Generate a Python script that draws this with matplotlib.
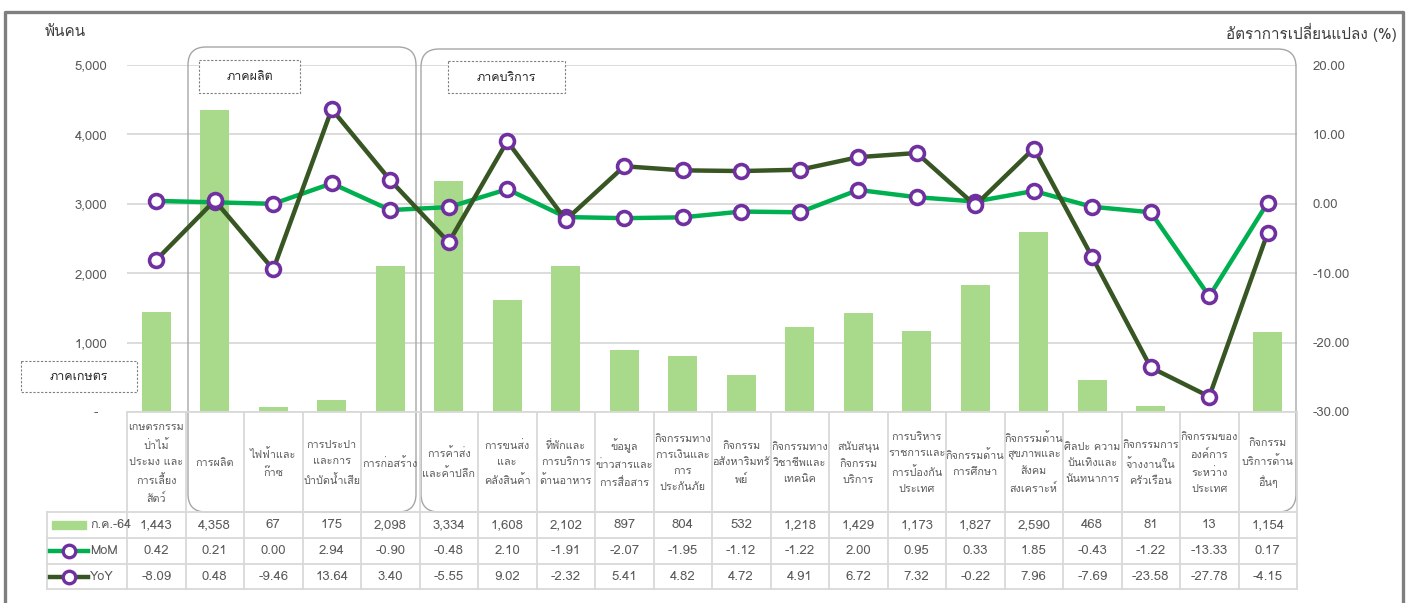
import matplotlib
matplotlib.use("Agg")
import matplotlib.pyplot as plt
import matplotlib.patches as patches
from matplotlib import font_manager
from matplotlib.ft2font import FT2Font
from matplotlib.lines import Line2D

# pick any installed font that has Thai glyphs
thai_family = None
for f in font_manager.fontManager.ttflist:
    try:
        if FT2Font(f.fname).get_char_index(0x0E01):
            thai_family = f.name
            break
    except Exception:
        pass
fams = ([thai_family] if thai_family else []) + ["DejaVu Sans"]
plt.rcParams["font.family"] = fams

categories = [
    "เกษตรกรรม\nป่าไม้\nประมง และ\nการเลี้ยง\nสัตว์",
    "การผลิต",
    "ไฟฟ้าและ\nก๊าซ",
    "การประปา\nและการ\nบำบัดน้ำเสีย",
    "การก่อสร้าง",
    "การค้าส่ง\nและค้าปลีก",
    "การขนส่ง\nและ\nคลังสินค้า",
    "ที่พักและ\nการบริการ\nด้านอาหาร",
    "ข้อมูล\nข่าวสารและ\nการสื่อสาร",
    "กิจกรรมทาง\nการเงินและ\nการ\nประกันภัย",
    "กิจกรรม\nอสังหาริมทรั\nพย์",
    "กิจกรรมทาง\nวิชาชีพและ\nเทคนิค",
    "สนับสนุน\nกิจกรรม\nบริการ",
    "การบริหาร\nราชการและ\nการป้องกัน\nประเทศ",
    "กิจกรรมด้าน\nการศึกษา",
    "กิจกรรมด้าน\nสุขภาพและ\nสังคม\nสงเคราะห์",
    "ศิลปะ ความ\nบันเทิงและ\nนันทนาการ",
    "กิจกรรมการ\nจ้างงานใน\nครัวเรือน",
    "กิจกรรมของ\nองค์การ\nระหว่าง\nประเทศ",
    "กิจกรรม\nบริการด้าน\nอื่นๆ",
]
employed = [1443, 4358, 67, 175, 2098, 3334, 1608, 2102, 897, 804,
            532, 1218, 1429, 1173, 1827, 2590, 468, 81, 13, 1154]
mom = [0.42, 0.21, 0.00, 2.94, -0.90, -0.48, 2.10, -1.91, -2.07, -1.95,
       -1.12, -1.22, 2.00, 0.95, 0.33, 1.85, -0.43, -1.22, -13.33, 0.17]
yoy = [-8.09, 0.48, -9.46, 13.64, 3.40, -5.55, 9.02, -2.32, 5.41, 4.82,
       4.72, 4.91, 6.72, 7.32, -0.22, 7.96, -7.69, -23.58, -27.78, -4.15]
left_ticks = [0, 1000, 2000, 3000, 4000, 5000]
left_labels = ["-  ", "1,000", "2,000", "3,000", "4,000", "5,000"]
right_ticks = [-30, -20, -10, 0, 10, 20]
bar_label = "ก.ค.-64"

BAR_C = "#A9D98B"
MOM_C = "#00B050"
YOY_C = "#375623"
MK_C = "#7030A0"
TXT_C = "#595959"
GRID_C = "#D9D9D9"

W, H = 1411, 603
fig = plt.figure(figsize=(W / 100, H / 100), dpi=100)
fig.patch.set_facecolor("white")

# plot area in pixels
x0, x1, ytop, ybot = 127, 1297, 65, 412
n = len(categories)
cw = (x1 - x0) / n

def fbox(l, t, r, b):
    return [l / W, 1 - b / H, (r - l) / W, (b - t) / H]

ax = fig.add_axes(fbox(x0, ytop, x1, ybot))
ax.set_zorder(1)
ax.patch.set_visible(False)
xs = list(range(n))
ax.bar(xs, employed, width=0.49, color=BAR_C, zorder=2)
ax.set_xlim(-0.5, n - 0.5)
ax.set_ylim(0, 5000)
ax.set_yticks(left_ticks)
ax.set_yticklabels(left_labels)
ax.set_xticks([])
ax.grid(axis="y", color=GRID_C, lw=1.3, zorder=0)
ax.set_axisbelow(True)
for s in ax.spines.values():
    s.set_visible(False)
ax.tick_params(axis="y", length=0, pad=14, labelsize=9.5, labelcolor=TXT_C)

# overlay in pixel coordinates for boxes and table
ov = fig.add_axes([0, 0, 1, 1])
ov.set_zorder(2)
ov.patch.set_visible(False)
ov.set_xlim(0, W)
ov.set_ylim(H, 0)
ov.axis("off")

ax2 = ax.twinx()
ax2.set_zorder(3)
ax2.patch.set_visible(False)
ax2.plot(xs, mom, color=MOM_C, lw=3.2, marker="o", ms=10, mfc="white",
         mec=MK_C, mew=2.6, solid_joinstyle="round")
ax2.plot(xs, yoy, color=YOY_C, lw=3.2, marker="o", ms=10, mfc="white",
         mec=MK_C, mew=2.6, solid_joinstyle="round")
ax2.set_ylim(-30, 20)
ax2.set_yticks(right_ticks)
ax2.set_yticklabels([f"{v:.2f}" for v in right_ticks])
for s in ax2.spines.values():
    s.set_visible(False)
ax2.tick_params(axis="y", length=0, pad=11, labelsize=9.5, labelcolor=TXT_C)

# outer frame
ov.plot([5, 5, 1403, 1403], [H + 5, 12, 12, H + 5], color="#7F7F7F", lw=2.4,
        clip_on=False)

# axis titles
ov.text(45, 32, "พันคน", fontsize=11, color="#404040", va="center", ha="left")
ov.text(1397, 32, "อัตราการเปลี่ยนแปลง (%)", fontsize=11, color="#404040",
        va="center", ha="right")

# sector group boxes
for (l, t, r, b) in [(188, 47, 416, 512), (421, 49, 1296, 512)]:
    ov.add_patch(patches.FancyBboxPatch((l, t), r - l, b - t,
                 boxstyle="round,pad=0,rounding_size=18", fc="none",
                 ec="#A6A6A6", lw=1.0))
for (l, t, r, b, s) in [(199, 60, 300, 93, "ภาคผลิต"),
                        (448, 61, 565, 93, "ภาคบริการ"),
                        (21, 361, 137, 392, "ภาคเกษตร")]:
    ov.add_patch(patches.Rectangle((l, t), r - l, b - t, fc="white",
                 ec="#7F7F7F", lw=0.8, ls=(0, (2, 1.5))))
    ov.text((l + r) / 2, (t + b) / 2 + 1, s, fontsize=9, color="#262626",
            ha="center", va="center")

# data table
rows_y = [412, 512, 538, 564, 589]
lx = 47
col_x = [x0 + k * cw for k in range(n + 1)]
ov.plot([x0, x1], [412, 412], color=GRID_C, lw=1.3)
for y in rows_y[1:]:
    ov.plot([lx, x1], [y, y], color=GRID_C, lw=1.3)
for k, x in enumerate(col_x):
    ov.plot([x, x], [412, 589], color=GRID_C, lw=1.3)
ov.plot([lx, lx], [512, 589], color=GRID_C, lw=1.3)

for i, c in enumerate(categories):
    cx = x0 + (i + 0.5) * cw
    ov.text(cx, 463, c, fontsize=7.8, color=TXT_C, ha="center", va="center",
            linespacing=1.75)
    ov.text(cx, 525, f"{employed[i]:,}", fontsize=9.5, color=TXT_C,
            ha="center", va="center")
    ov.text(cx, 551, f"{mom[i]:.2f}", fontsize=9.5, color=TXT_C,
            ha="center", va="center")
    ov.text(cx, 577, f"{yoy[i]:.2f}", fontsize=9.5, color=TXT_C,
            ha="center", va="center")

# legend keys inside the table
ov.add_patch(patches.Rectangle((52, 521), 34, 8, color=BAR_C))
ov.text(90, 525, bar_label, fontsize=9, color=TXT_C, ha="left", va="center")
for y, col, lab in [(551, MOM_C, "MoM"), (577, YOY_C, "YoY")]:
    ov.add_line(Line2D([50, 88], [y, y], color=col, lw=3.2))
    ov.add_line(Line2D([69], [y], marker="o", ms=9, mfc="white", mec=MK_C,
                       mew=2.4, ls="none"))
    ov.text(90, y, lab, fontsize=9, color=TXT_C, ha="left", va="center")

fig.savefig("out.png", dpi=100, facecolor="white")
